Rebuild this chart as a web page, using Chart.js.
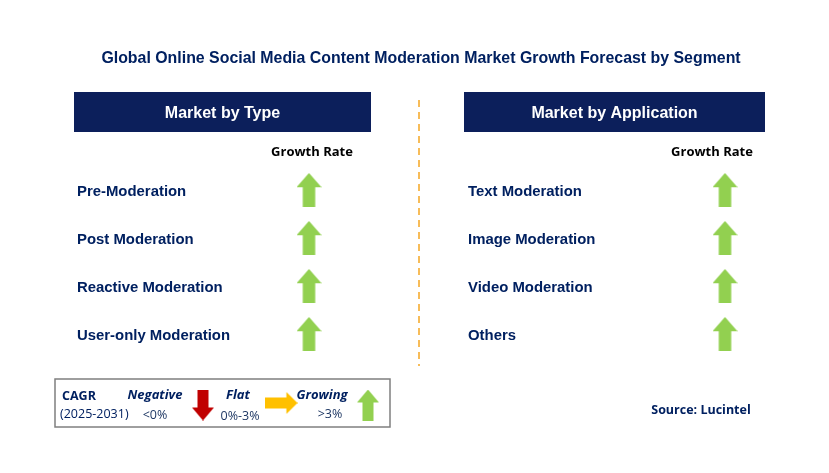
<!DOCTYPE html>
<html><head><meta charset="utf-8">
<script src="https://cdn.jsdelivr.net/npm/chart.js@4"></script>
<style>html,body{margin:0;padding:0;background:#fff}#w{width:829px;height:473px;position:relative}</style>
</head><body><div id="w"><canvas id="c"></canvas></div>
<script>
const chartTitle = "Global Online Social Media Content Moderation Market Growth Forecast by Segment";
const panelTitles = ["Market by Type", "Market by Application"];
const typeSegments = ["Pre-Moderation", "Post Moderation", "Reactive Moderation", "User-only Moderation"];
const appSegments = ["Text Moderation", "Image Moderation", "Video Moderation", "Others"];
const typeGrowth = ["Growing", "Growing", "Growing", "Growing"];
const appGrowth = ["Growing", "Growing", "Growing", "Growing"];
const legendItems = [["Negative","<0%"],["Flat","0%-3%"],["Growing",">3%"]];
const sourceText = "Source: Lucintel";

const COL = {Growing:"#92d050", Flat:"#ffc000", Negative:"#c00000"};
function arrowImg(kind, len, wid){
  const horiz = kind==="Flat";
  const c = document.createElement('canvas');
  c.width = horiz?len:wid; c.height = horiz?wid:len;
  const g = c.getContext('2d'); g.fillStyle = COL[kind];
  const hw = wid/2, sw = wid*0.25, hh = len*0.42;
  g.beginPath();
  if(kind==="Growing"){ g.moveTo(hw,0);g.lineTo(wid,hh);g.lineTo(hw+sw,hh);g.lineTo(hw+sw,len);g.lineTo(hw-sw,len);g.lineTo(hw-sw,hh);g.lineTo(0,hh); }
  else if(kind==="Negative"){ g.moveTo(hw,len);g.lineTo(wid,len-hh);g.lineTo(hw+sw,len-hh);g.lineTo(hw+sw,0);g.lineTo(hw-sw,0);g.lineTo(hw-sw,len-hh);g.lineTo(0,len-hh); }
  else { g.moveTo(len,hw);g.lineTo(len-hh*0.8,wid);g.lineTo(len-hh*0.8,hw+sw);g.lineTo(0,hw+sw);g.lineTo(0,hw-sw);g.lineTo(len-hh*0.8,hw-sw);g.lineTo(len-hh*0.8,0); }
  g.closePath(); g.fill(); return c;
}
const rowY = [190,238,286,334];
const mainPts = [], mainImgs = [];
typeGrowth.forEach((k,i)=>{mainPts.push({x:309,y:rowY[i]});mainImgs.push(arrowImg(k,34,25));});
appGrowth.forEach((k,i)=>{mainPts.push({x:725,y:rowY[i]});mainImgs.push(arrowImg(k,34,25));});
const legPts = [{x:203,y:405},{x:281,y:403},{x:368,y:405}];
const legImgs = [arrowImg("Negative",31,22),arrowImg("Flat",33,22),arrowImg("Growing",31,22)];

const NAVY="#002060";
const deco = {id:'deco', beforeDatasetsDraw(ch){
  const g=ch.ctx, X=ch.scales.x, Y=ch.scales.y;
  const px=v=>X.getPixelForValue(v), py=v=>Y.getPixelForValue(v+1.5);
  g.save(); g.textBaseline='middle';
  g.fillStyle=NAVY; g.font='bold 15.9px "Liberation Sans", Arial'; g.textAlign='center';
  g.fillText(chartTitle, px(421), py(57));
  [[74,371],[464,765]].forEach((b,i)=>{
    g.fillStyle='#0c1f5b'; g.fillRect(px(b[0]),Y.getPixelForValue(92),px(b[1])-px(b[0]),40);
    g.fillStyle='#fff'; g.font='bold 16px "Liberation Sans", Arial'; g.fillText(panelTitles[i],(px(b[0])+px(b[1]))/2,py(112));
  });
  g.fillStyle='#000'; g.font='bold 13px "Open Sans", sans-serif';
  g.fillText("Growth Rate",px(312),py(151)); g.fillText("Growth Rate",px(712),py(151));
  g.textAlign='left'; g.fillStyle=NAVY; g.font='bold 14.9px "Liberation Sans", Arial';
  typeSegments.forEach((s,i)=>g.fillText(s,px(77),py(rowY[i])));
  appSegments.forEach((s,i)=>g.fillText(s,px(468),py(rowY[i])));
  g.strokeStyle='#f5a623'; g.lineWidth=1.5; g.setLineDash([7,5]);
  g.beginPath(); g.moveTo(px(419),Y.getPixelForValue(100)); g.lineTo(px(419),Y.getPixelForValue(366)); g.stroke(); g.setLineDash([]);
  g.strokeStyle='#7f7f7f'; g.lineWidth=1.5; g.strokeRect(px(55),Y.getPixelForValue(379),335,48);
  g.fillStyle=NAVY; g.font='bold 12.5px "Open Sans", sans-serif'; g.fillText("CAGR",px(62),py(395));
  g.font='12.5px "Open Sans", sans-serif'; g.fillText("(2025-2031)",px(60),py(413));
  g.textAlign='center'; g.font='italic bold 13px "Open Sans", sans-serif';
  g.fillText(legendItems[0][0],px(155),py(394)); g.fillText(legendItems[1][0],px(238),py(394)); g.fillText(legendItems[2][0],px(322),py(394));
  g.font='12.5px "Open Sans", sans-serif'; g.fillStyle='#1f3864';
  g.fillText(legendItems[0][1],px(155),py(414)); g.fillText(legendItems[1][1],px(240),py(415)); g.fillText(legendItems[2][1],px(330),py(413));
  g.fillStyle=NAVY; g.font='bold 12.5px "Open Sans", sans-serif'; g.fillText(sourceText,px(701),py(409));
  g.restore();
}};
new Chart(document.getElementById('c'),{
  type:'scatter',
  data:{datasets:[
    {data:mainPts,pointStyle:mainImgs,pointRadius:12},
    {data:legPts,pointStyle:legImgs,pointRadius:12}
  ]},
  options:{responsive:true,maintainAspectRatio:false,animation:false,
    layout:{padding:0,autoPadding:false},
    plugins:{legend:{display:false},tooltip:{enabled:false}},
    scales:{x:{type:'linear',min:0,max:829,display:false},y:{type:'linear',min:0,max:473,reverse:true,display:false}}},
  plugins:[deco]
});
</script></body></html>
